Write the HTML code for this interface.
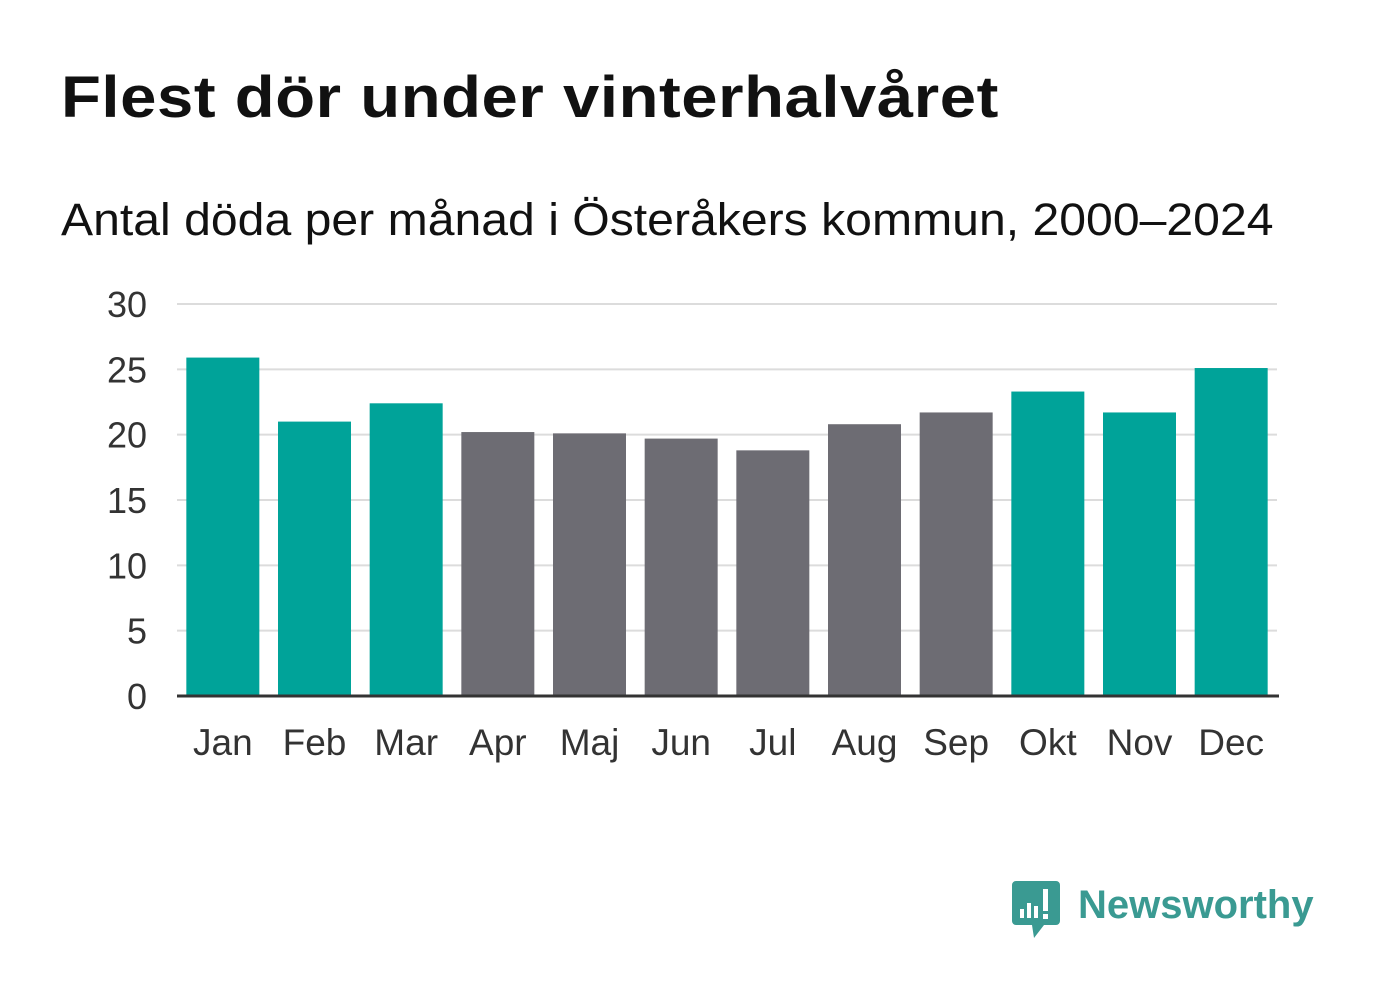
<!DOCTYPE html>
<html><head><meta charset="utf-8"><style>
html,body{margin:0;padding:0;background:#fff;width:1382px;height:999px;overflow:hidden}
body{font-family:"Liberation Sans",sans-serif;position:relative}
#title{position:absolute;left:61px;top:64px;font-size:58px;font-weight:bold;color:#111;margin:0;letter-spacing:0.5px;transform-origin:0 0;transform:scaleX(1.125);white-space:nowrap}
#sub{position:absolute;left:61px;top:194px;font-size:45px;color:#111;transform-origin:0 0;transform:scaleX(1.07);white-space:nowrap}
svg{position:absolute;left:0;top:0}
</style></head><body>
<h1 id="title">Flest dör under vinterhalvåret</h1>
<div id="sub">Antal döda per månad i Österåkers kommun, 2000–2024</div>
<svg id="chart" width="1382" height="999"></svg>
<script>
const categories=["Jan","Feb","Mar","Apr","Maj","Jun","Jul","Aug","Sep","Okt","Nov","Dec"];
const values=[25.9,21.0,22.4,20.2,20.1,19.7,18.8,20.8,21.7,23.3,21.7,25.1];
const highlight=[1,1,1,0,0,0,0,0,0,1,1,1];
const ticks=[0,5,10,15,20,25,30];
const NS="http://www.w3.org/2000/svg";
const svg=document.getElementById('chart');
const x0=177,x1=1277,yTop=304,yBot=696,maxV=30;
const y=v=>yBot-(v/maxV)*(yBot-yTop);
const step=(x1-x0)/categories.length,bw=73;
const xc=i=>x0+step*(i+0.5);
function mk(t,a){const e=document.createElementNS(NS,t);for(const k in a)e.setAttribute(k,a[k]);svg.appendChild(e);return e;}
ticks.forEach(t=>{
  if(t>0){const g=mk('line',{x1:x0,x2:x1,y1:y(t),y2:y(t),stroke:'#dcdcdc','stroke-width':2});
  
  }
  const l=mk('text',{x:147,y:y(t)+13,'text-anchor':'end','font-size':36,fill:'#333','font-family':'Liberation Sans, sans-serif'});
  l.textContent=t;
  
  
});
categories.forEach((c,i)=>{
  const r=mk('rect',{x:xc(i)-bw/2,y:y(values[i]),width:bw,height:yBot-y(values[i]),fill:highlight[i]?'#00a399':'#6d6c73'});
  
  
  const t=mk('text',{x:xc(i),y:755,'text-anchor':'middle','font-size':37,fill:'#333','font-family':'Liberation Sans, sans-serif'});
  t.textContent=c;
  
  
});
const ax=mk('line',{x1:x0,x2:x1+2,y1:yBot,y2:yBot,stroke:'#333','stroke-width':3});


const lg=document.createElementNS(NS,'g');


svg.appendChild(lg);
lg.innerHTML='<path d="M1016 881 h40 a4 4 0 0 1 4 4 v36 a4 4 0 0 1 -4 4 h-12 l-10 13 l-2 -13 h-16 a4 4 0 0 1 -4 -4 v-36 a4 4 0 0 1 4 -4z" fill="#3a9a92"/>'+
'<rect x="1020" y="909" width="4" height="9" fill="#fff"/><rect x="1027" y="903" width="4" height="15" fill="#fff"/><rect x="1034" y="906" width="4" height="12" fill="#fff"/><rect x="1043" y="889" width="5" height="22" fill="#fff"/><rect x="1043" y="914" width="5" height="5" fill="#fff"/>'+
'<text x="1078" y="918" font-size="40" font-weight="bold" fill="#3a9a92" font-family="Liberation Sans, sans-serif">Newsworthy</text>';
</script>
</body></html>
